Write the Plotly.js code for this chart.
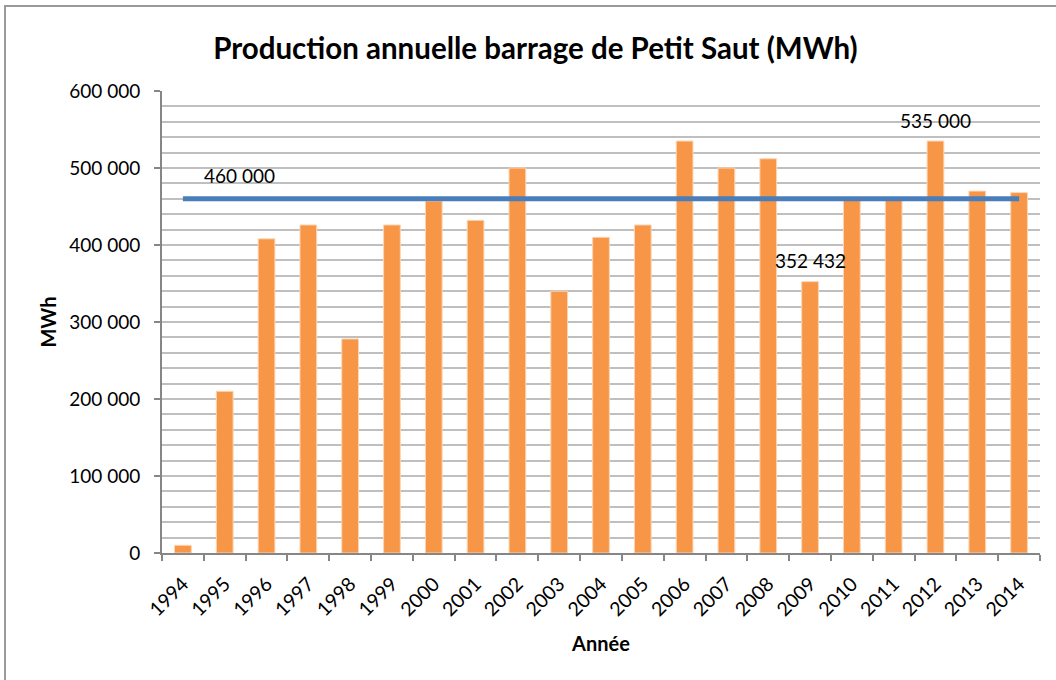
<!DOCTYPE html>
<html>
<head>
<meta charset="utf-8">
<script src="https://cdn.plot.ly/plotly-3.0.1.min.js"></script>
<style>
  html, body { margin: 0; padding: 0; background: #ffffff; overflow: hidden; }
  #wrap { position: relative; width: 1056px; height: 680px; }
  #chart { width: 1056px; height: 680px; }
  #frame { position: absolute; left: 4px; top: 5px; width: 1100px; height: 700px;
           border: 2px solid #9a9a9a; pointer-events: none; }
</style>
</head>
<body>
<div id="wrap">
  <div id="chart"></div>
  <div id="frame"></div>
</div>
<script>
const years = ['1994','1995','1996','1997','1998','1999','2000','2001','2002','2003','2004',
               '2005','2006','2007','2008','2009','2010','2011','2012','2013','2014'];
const production = [10000, 210000, 408000, 426000, 278000, 426000, 457000, 432000, 500000, 340000,
                    410000, 426000, 535000, 500000, 512000, 352432, 458000, 458000, 535000, 470000, 468000];
const moyenne = [460000, 460000, 460000, 460000, 460000, 460000, 460000, 460000, 460000, 460000,
                 460000, 460000, 460000, 460000, 460000, 460000, 460000, 460000, 460000, 460000, 460000];
const yTicks = [0, 100000, 200000, 300000, 400000, 500000, 600000];

function fmt(v) { return String(v).replace(/\B(?=(\d{3})+(?!\d))/g, ' '); }

const font = 'Lato, "Open Sans", "Liberation Sans", sans-serif';

const traces = [
  {
    type: 'bar', x: years, y: production,
    marker: { color: '#F79646', line: { color: '#FBD5B5', width: 1 } },
    hoverinfo: 'x+y', showlegend: false
  },
  {
    type: 'scatter', mode: 'lines', x: years, y: moyenne,
    line: { color: '#4A7EBB', width: 5 },
    showlegend: false
  }
];

const layout = {
  width: 1056, height: 680,
  margin: { l: 162, r: 16, t: 91, b: 127 },
  paper_bgcolor: '#ffffff', plot_bgcolor: '#ffffff',
  bargap: 0.6,
  font: { family: font, size: 19, color: '#000000' },
  title: {
    text: '<b>Production annuelle barrage de Petit Saut (MWh)</b>',
    font: { family: font, size: 29.5, color: '#000000' },
    x: 0.507, xanchor: 'center', xref: 'container',
    y: 0.929, yanchor: 'middle', yref: 'container'
  },
  xaxis: {
    type: 'category',
    tickangle: -45,
    ticks: 'outside', ticklen: 6, tickwidth: 2, tickcolor: '#868686',
    tickson: 'boundaries',
    ticklabelstandoff: 10,
    showline: true, linecolor: '#868686', linewidth: 2,
    showgrid: false, zeroline: false,
    tickfont: { family: font, size: 19.5, color: '#000000' },
    title: { text: '<b>Année</b>', font: { family: font, size: 20, color: '#000000' }, standoff: 18 }
  },
  yaxis: {
    range: [0, 600000],
    tickvals: yTicks,
    ticktext: yTicks.map(fmt),
    ticks: 'outside', ticklen: 6, tickwidth: 2, tickcolor: '#868686',
    ticklabelstandoff: 10,
    showline: true, linecolor: '#868686', linewidth: 2,
    showgrid: true, gridcolor: '#bfbfbf', gridwidth: 2,
    minor: { dtick: 20000, showgrid: true, gridcolor: '#bfbfbf', gridwidth: 2, ticks: '' },
    zeroline: false,
    tickfont: { family: font, size: 19, color: '#000000' },
    title: { text: '<b>MWh</b>', font: { family: font, size: 20, color: '#000000' }, standoff: 7 }
  },
  annotations: [
    { xref: 'x', yref: 'y', x: 1.36, y: 490000, text: fmt(moyenne[1]), showarrow: false,
      font: { family: font, size: 19, color: '#000000' } },
    { xref: 'x', yref: 'y', x: 15, y: production[15] + 28000, text: fmt(production[15]), showarrow: false,
      font: { family: font, size: 19, color: '#000000' } },
    { xref: 'x', yref: 'y', x: 18, y: production[18] + 27000, text: fmt(production[18]), showarrow: false,
      font: { family: font, size: 19, color: '#000000' } }
  ]
};

Plotly.newPlot('chart', traces, layout, { displayModeBar: false, staticPlot: true });
</script>
</body>
</html>
